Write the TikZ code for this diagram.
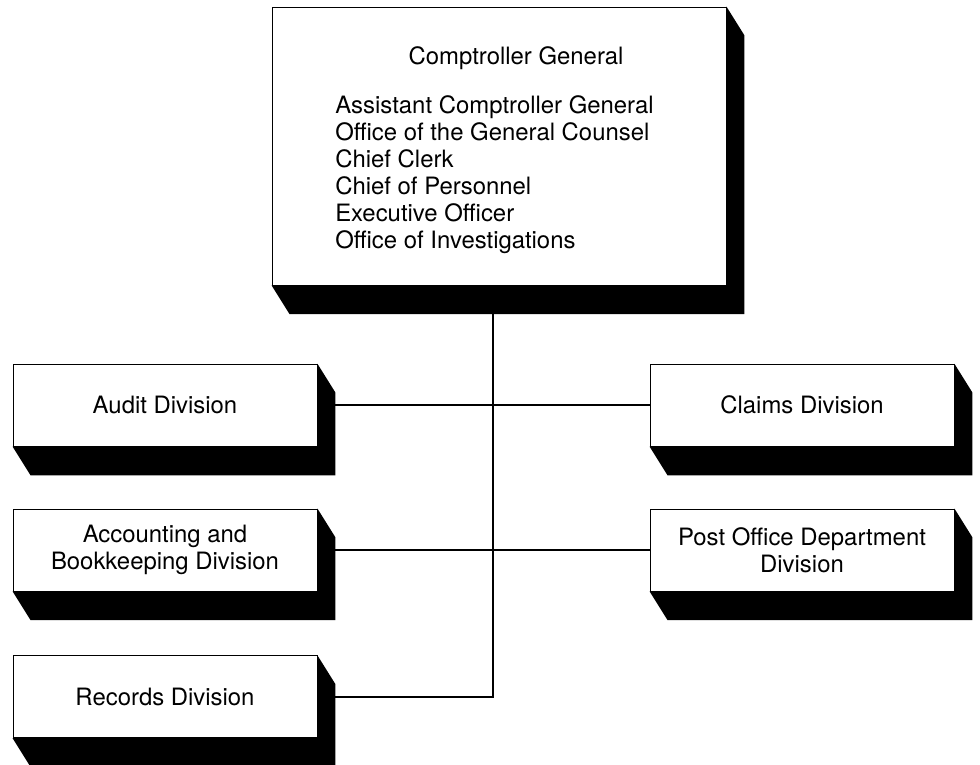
\documentclass[tikz,border=0pt]{standalone}
\usepackage{fontspec}
\setmainfont{TeX Gyre Heros}

\begin{document}
\begin{tikzpicture}[
  unit/.style={draw, fill=white, line width=0.6pt, minimum width=7.6cm, minimum height=2.05cm,
    align=center, font=\fontsize{17}{19}\selectfont},
  link/.style={line width=1pt}]
\useasboundingbox (0,0) rectangle (24.5,19.1);

% Boxes
\node[unit, minimum width=11.35cm, minimum height=6.95cm] (cg) at (12.475,15.45) {};
\node[anchor=base, font=\fontsize{17}{19}\selectfont] (cgtitle) at (12.9,17.475) {Comptroller General};
\node[anchor=north west, inner sep=0pt, align=left, font=\fontsize{17}{19.2}\selectfont] (cgstaff) at (8.375,16.72)
  {Assistant Comptroller General\\Office of the General Counsel\\Chief Clerk\\Chief of Personnel\\Executive Officer\\Office of Investigations};
\node[unit] (audit) at (4.125,8.97) {Audit Division};
\node[unit] (accounting) at (4.125,5.35) {Accounting and\\Bookkeeping Division};
\node[unit] (records) at (4.125,1.68) {Records Division};
\node[unit] (claims) at (20.05,8.97) {Claims Division};
\node[unit] (postoffice) at (20.05,5.35) {Post Office Department\\Division};

% Shadows
\foreach \n in {cg,audit,accounting,records,claims,postoffice}
  \fill (\n.north east) -- ([shift={(0.45,-0.72)}]\n.north east) -- ([shift={(0.45,-0.72)}]\n.south east)
    -- ([shift={(0.45,-0.72)}]\n.south west) -- (\n.south west) -- (\n.south east) -- cycle;

% Lines
\coordinate (trunk) at (12.325,1.68);
\draw[link] (cg.south -| trunk) -- (trunk) -- (records.east);
\draw[link] (audit.east) -- (claims.west);
\draw[link] (accounting.east) -- (postoffice.west);

\end{tikzpicture}
\end{document}
